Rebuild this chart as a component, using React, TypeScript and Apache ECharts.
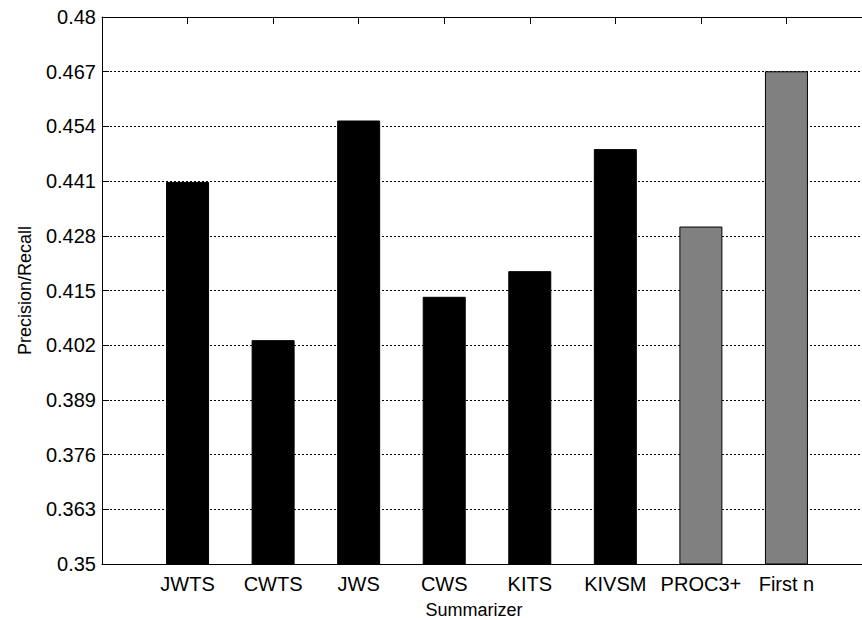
import React, { useEffect, useRef } from "react";
import * as echarts from "echarts";

const categories = ["JWTS", "CWTS", "JWS", "CWS", "KITS", "KIVSM", "PROC3+", "First n"];
const values = [0.4408, 0.4032, 0.4554, 0.4135, 0.4196, 0.4486, 0.4302, 0.4671];
const barColors = ["#000000", "#000000", "#000000", "#000000", "#000000", "#000000", "#808080", "#808080"];
const yMin = 0.35;
const yMax = 0.48;
const yStep = 0.013;

const FONT = "'Liberation Sans', Arial, Helvetica, sans-serif";

export default function App() {
  const ref = useRef<HTMLDivElement>(null);
  useEffect(() => {
    if (!ref.current) return;
    const chart = echarts.init(ref.current, null, { renderer: "svg" });
    const positions = categories.map((_, i) => i + 1);
    chart.setOption({
      animation: false,
      backgroundColor: "#ffffff",
      textStyle: { fontFamily: FONT },
      grid: { left: 102, top: 17, bottom: 56, right: -10, containLabel: false, outerBoundsMode: "none" },
      xAxis: [
        {
          type: "value",
          position: "bottom",
          min: 0,
          max: categories.length + 1,
          interval: 1,
          axisLine: { show: true, lineStyle: { color: "#000", width: 1 } },
          axisTick: { show: false },
          splitLine: { show: false },
          axisLabel: {
            color: "#000",
            fontSize: 20,
            fontFamily: FONT,
            margin: 10,
            formatter: (v: number) => {
              const idx = Math.round(v) - 1;
              return idx >= 0 && idx < categories.length ? categories[idx] : "";
            },
          },
          name: "Summarizer",
          nameLocation: "middle",
          nameGap: 37,
          nameTextStyle: { color: "#000", fontSize: 18, fontFamily: FONT, padding: [0, 26, 0, 0] },
        },
        {
          type: "value",
          position: "top",
          min: 0,
          max: categories.length + 1,
          interval: 1,
          axisLine: { show: true, lineStyle: { color: "#000", width: 1 } },
          axisTick: { show: true, inside: true, length: 7, lineStyle: { color: "#000" } },
          axisLabel: { show: false },
          splitLine: { show: false },
        },
      ],
      yAxis: {
        type: "value",
        min: yMin,
        max: yMax,
        interval: yStep,
        axisLine: { show: true, lineStyle: { color: "#000", width: 1 } },
        axisTick: { show: true, inside: true, length: 7, lineStyle: { color: "#000" } },
        splitLine: { show: true, lineStyle: { color: "#000", type: [2, 2], width: 1 } },
        axisLabel: {
          color: "#000",
          fontSize: 20,
          fontFamily: FONT,
          margin: 6,
          formatter: (v: number) => String(parseFloat(v.toFixed(3))),
        },
        name: "Precision/Recall",
        nameLocation: "middle",
        nameGap: 68,
        nameTextStyle: { color: "#000", fontSize: 18, fontFamily: FONT },
      },
      series: [
        {
          type: "bar",
          xAxisIndex: 0,
          barWidth: 43,
          data: values.map((v, i) => ({
            value: [positions[i], v],
            itemStyle: { color: barColors[i], borderColor: "#000", borderWidth: 1 },
          })),
        },
      ],
    });
    return () => chart.dispose();
  }, []);
  return (
    <div
      ref={ref}
      style={{ position: "fixed", left: 0, top: 0, width: 862, height: 620, background: "#fff" }}
    />
  );
}
